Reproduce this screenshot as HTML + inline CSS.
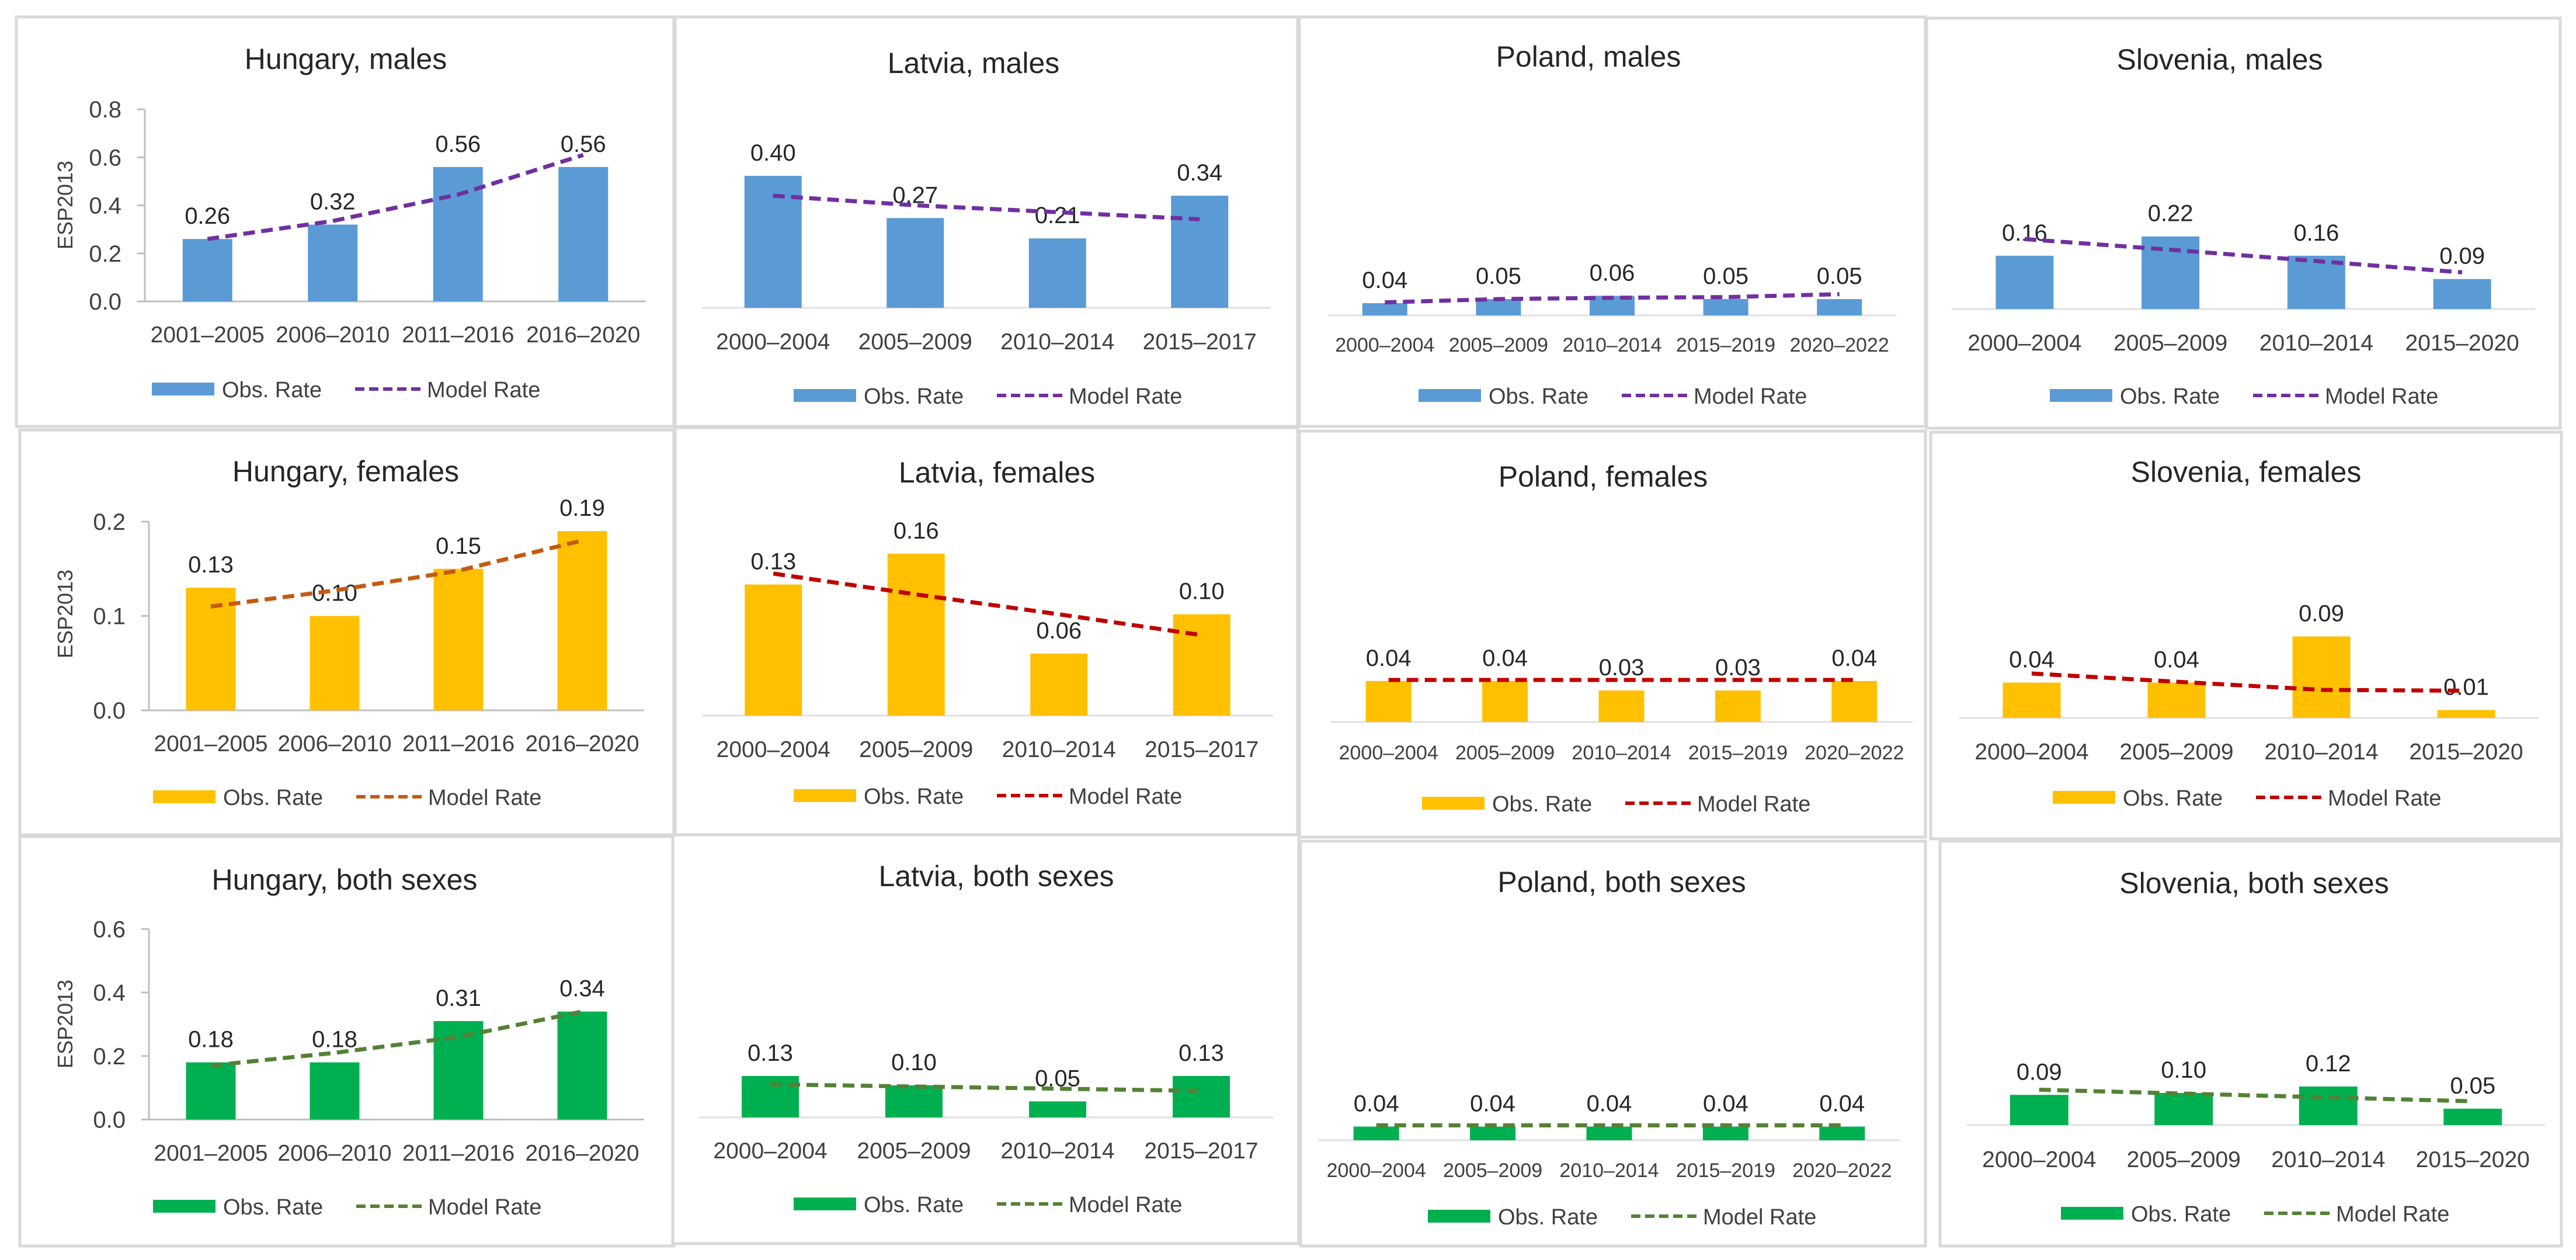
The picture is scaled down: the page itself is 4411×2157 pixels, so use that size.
<!DOCTYPE html>
<html><head><meta charset="utf-8"><style>
html,body{margin:0;padding:0;background:#fff;}
svg{display:block;}
text{font-family:"Liberation Sans",sans-serif;}
</style></head>
<body>
<svg id="chart" width="4411" height="2157" viewBox="0 0 4411 2157" xmlns="http://www.w3.org/2000/svg">
<rect x="0" y="0" width="4411" height="2157" fill="#fff"/>
</svg>
<script>
// ---- data ----
const hungaryCats = ["2001–2005","2006–2010","2011–2016","2016–2020"];
const latviaCats = ["2000–2004","2005–2009","2010–2014","2015–2017"];
const polandCats = ["2000–2004","2005–2009","2010–2014","2015–2019","2020–2022"];
const sloveniaCats = ["2000–2004","2005–2009","2010–2014","2015–2020"];

const hungaryMalesObs = [0.26,0.32,0.56,0.56];
const hungaryMalesModel = [0.26,0.335,0.445,0.61];
const hungaryMalesLabels = ["0.26","0.32","0.56","0.56"];
const hungaryFemalesObs = [0.13,0.10,0.15,0.19];
const hungaryFemalesModel = [0.11,0.127,0.148,0.18];
const hungaryFemalesLabels = ["0.13","0.10","0.15","0.19"];
const hungaryBothObs = [0.18,0.18,0.31,0.34];
const hungaryBothModel = [0.17,0.21,0.26,0.34];
const hungaryBothLabels = ["0.18","0.18","0.31","0.34"];

const latviaMalesObs = [0.538,0.366,0.283,0.457];
const latviaMalesModel = [0.457,0.418,0.39,0.361];
const latviaMalesLabels = ["0.40","0.27","0.21","0.34"];
const latviaFemalesObs = [0.132,0.163,0.0625,0.102];
const latviaFemalesModel = [0.143,0.122,0.102,0.081];
const latviaFemalesLabels = ["0.13","0.16","0.06","0.10"];
const latviaBothObs = [0.134,0.104,0.052,0.134];
const latviaBothModel = [0.107,0.1,0.093,0.086];
const latviaBothLabels = ["0.13","0.10","0.05","0.13"];

const polandMalesObs = [0.0375,0.05,0.06,0.05,0.05];
const polandMalesModel = [0.04,0.05,0.054,0.056,0.065];
const polandMalesLabels = ["0.04","0.05","0.06","0.05","0.05"];
const polandFemalesObs = [0.039,0.039,0.03,0.03,0.039];
const polandFemalesModel = [0.04,0.04,0.04,0.04,0.04];
const polandFemalesLabels = ["0.04","0.04","0.03","0.03","0.04"];
const polandBothObs = [0.039,0.039,0.039,0.039,0.039];
const polandBothModel = [0.0425,0.0425,0.0425,0.0425,0.0425];
const polandBothLabels = ["0.04","0.04","0.04","0.04","0.04"];

const sloveniaMalesObs = [0.16,0.218,0.16,0.09];
const sloveniaMalesModel = [0.21,0.178,0.144,0.11];
const sloveniaMalesLabels = ["0.16","0.22","0.16","0.09"];
const sloveniaFemalesObs = [0.039,0.039,0.09,0.0087];
const sloveniaFemalesModel = [0.049,0.04,0.031,0.03];
const sloveniaFemalesLabels = ["0.04","0.04","0.09","0.01"];
const sloveniaBothObs = [0.094,0.1,0.12,0.051];
const sloveniaBothModel = [0.11,0.098,0.086,0.074];
const sloveniaBothLabels = ["0.09","0.10","0.12","0.05"];

const hungaryMalesTicks = [0,0.2,0.4,0.6,0.8];
const hungaryFemalesTicks = [0,0.1,0.2];
const hungaryBothTicks = [0,0.2,0.4,0.6];

// ---- layout (not data) ----
const BLUE="#5b9bd5", GOLD="#ffc000", GREEN="#00b050";
const panels = [
 {id:"hungary-males",title:"Hungary, males",box:[28,29,1154,730],tx:592,ty:100,ax1:248,ax2:1106,base:516,scale:411,bw:85,cats:hungaryCats,obs:hungaryMalesObs,model:hungaryMalesModel,labels:hungaryMalesLabels,cy:573,cf:39,lx:260,ly:666,bar:BLUE,line:"#7030a0",ticks:hungaryMalesTicks,tickDec:1,esp:351},
 {id:"latvia-males",title:"Latvia, males",box:[1156,29,2222,730],tx:1667,ty:107,ax1:1202,ax2:2176,base:527,scale:420,bw:98,cats:latviaCats,obs:latviaMalesObs,model:latviaMalesModel,labels:latviaMalesLabels,cy:585,cf:39,lx:1359,ly:677,bar:BLUE,line:"#7030a0"},
 {id:"poland-males",title:"Poland, males",box:[2225,29,3297,730],tx:2720,ty:96,ax1:2274,ax2:3247,base:540,scale:560,bw:77,cats:polandCats,obs:polandMalesObs,model:polandMalesModel,labels:polandMalesLabels,cy:589,cf:34,lx:2429,ly:677,bar:BLUE,line:"#7030a0"},
 {id:"slovenia-males",title:"Slovenia, males",box:[3299,31,4384,733],tx:3801,ty:101,ax1:3342,ax2:4341,base:529,scale:570,bw:99,cats:sloveniaCats,obs:sloveniaMalesObs,model:sloveniaMalesModel,labels:sloveniaMalesLabels,cy:587,cf:39,lx:3510,ly:677,bar:BLUE,line:"#7030a0"},

 {id:"hungary-females",title:"Hungary, females",box:[34,736,1154,1429],tx:592,ty:806,ax1:255,ax2:1103,base:1216,scale:1615,bw:85,cats:hungaryCats,obs:hungaryFemalesObs,model:hungaryFemalesModel,labels:hungaryFemalesLabels,cy:1273,cf:39,lx:262,ly:1364,bar:GOLD,line:"#c55a11",ticks:hungaryFemalesTicks,tickDec:1,esp:1051},
 {id:"latvia-females",title:"Latvia, females",box:[1156,732,2222,1429],tx:1707,ty:808,ax1:1202,ax2:2180,base:1225,scale:1700,bw:98,cats:latviaCats,obs:latviaFemalesObs,model:latviaFemalesModel,labels:latviaFemalesLabels,cy:1283,cf:39,lx:1359,ly:1362,bar:GOLD,line:"#c00000"},
 {id:"poland-females",title:"Poland, females",box:[2225,738,3297,1433],tx:2745,ty:815,ax1:2278,ax2:3275,base:1236,scale:1800,bw:78,cats:polandCats,obs:polandFemalesObs,model:polandFemalesModel,labels:polandFemalesLabels,cy:1287,cf:34,lx:2435,ly:1375,bar:GOLD,line:"#c00000"},
 {id:"slovenia-females",title:"Slovenia, females",box:[3306,740,4386,1436],tx:3846,ty:807,ax1:3355,ax2:4347,base:1229,scale:1550,bw:99,cats:sloveniaCats,obs:sloveniaFemalesObs,model:sloveniaFemalesModel,labels:sloveniaFemalesLabels,cy:1287,cf:39,lx:3515,ly:1365,bar:GOLD,line:"#c00000"},

 {id:"hungary-both",title:"Hungary, both sexes",box:[34,1432,1154,2133],tx:590,ty:1505,ax1:255,ax2:1103,base:1916.5,scale:543.5,bw:85,cats:hungaryCats,obs:hungaryBothObs,model:hungaryBothModel,labels:hungaryBothLabels,cy:1974,cf:39,lx:262,ly:2065,bar:GREEN,line:"#548235",ticks:hungaryBothTicks,tickDec:1,esp:1753},
 {id:"latvia-both",title:"Latvia, both sexes",box:[1152,1429,2224,2129],tx:1706,ty:1499,ax1:1196,ax2:2180,base:1913,scale:530,bw:98,cats:latviaCats,obs:latviaBothObs,model:latviaBothModel,labels:latviaBothLabels,cy:1970,cf:39,lx:1359,ly:2061,bar:GREEN,line:"#548235"},
 {id:"poland-both",title:"Poland, both sexes",box:[2227,1440,3297,2133],tx:2777,ty:1509,ax1:2257,ax2:3254,base:1952,scale:600,bw:78,cats:polandCats,obs:polandBothObs,model:polandBothModel,labels:polandBothLabels,cy:2002,cf:34,lx:2445,ly:2082,bar:GREEN,line:"#548235"},
 {id:"slovenia-both",title:"Slovenia, both sexes",box:[3322,1440,4386,2133],tx:3860,ty:1511,ax1:3368,ax2:4358,base:1926,scale:550,bw:100,cats:sloveniaCats,obs:sloveniaBothObs,model:sloveniaBothModel,labels:sloveniaBothLabels,cy:1985,cf:39,lx:3529,ly:2077,bar:GREEN,line:"#548235"}
];

const NS="http://www.w3.org/2000/svg";
const svg=document.getElementById("chart");
function mk(tag,attrs,parent,txt){const e=document.createElementNS(NS,tag);for(const k in attrs)e.setAttribute(k,attrs[k]);if(txt!==undefined)e.textContent=txt;parent.appendChild(e);return e;}

panels.forEach(p=>{
  const g=mk("g",{},svg);
  
  
  const [x1,y1,x2,y2]=p.box;
  const fr=mk("rect",{x:x1,y:y1,width:x2-x1,height:y2-y1,fill:"#fff",stroke:"#d9d9d9","stroke-width":5},g);
  
  
  const t=mk("text",{x:p.tx,y:p.ty+18,"text-anchor":"middle","font-size":50,fill:"#262626"},g,p.title);
  
  
  const n=p.cats.length, step=(p.ax2-p.ax1)/n;
  const xc=i=>p.ax1+(i+0.5)*step;
  const yv=v=>p.base-v*p.scale;
  // y axis
  if(p.ticks){
    const top=yv(p.ticks[p.ticks.length-1]);
    const ya=mk("line",{x1:p.ax1,y1:top,x2:p.ax1,y2:p.base,stroke:"#bfbfbf","stroke-width":3},g);
    
    
    p.ticks.forEach(tv=>{
      const yy=yv(tv);
      const tk=mk("line",{x1:p.ax1-13,y1:yy,x2:p.ax1,y2:yy,stroke:"#bfbfbf","stroke-width":3},g);
      
      
      const tl=mk("text",{x:p.ax1-40,y:yy+14,"text-anchor":"end","font-size":40,fill:"#404040"},g,tv.toFixed(p.tickDec));
      
      
    });
    const et=mk("text",{x:0,y:0,"text-anchor":"middle","font-size":36,fill:"#404040",transform:`translate(124,${p.esp}) rotate(-90)`},g,"ESP2013");
    
    
  }
  // x axis
  const xa=mk("line",{x1:p.ax1,y1:p.base,x2:p.ax2,y2:p.base,stroke:p.ticks?"#bfbfbf":"#e0e0e0","stroke-width":3},g);
  
  
  // bars
  p.obs.forEach((v,i)=>{
    const top=yv(v);
    const b=mk("rect",{x:xc(i)-p.bw/2,y:top,width:p.bw,height:p.base-top,fill:p.bar},g);
    
    
    const l=mk("text",{x:xc(i),y:top-26,"text-anchor":"middle","font-size":40,fill:"#262626"},g,p.labels[i]);
    
    
    const c=mk("text",{x:xc(i),y:p.cy+13,"text-anchor":"middle","font-size":p.cf,fill:"#404040"},g,p.cats[i]);
    
    
  });
  // model line
  const pts=p.model.map((v,i)=>xc(i)+","+yv(v)).join(" ");
  const ml=mk("polyline",{points:pts,fill:"none",stroke:p.line,"stroke-width":7,"stroke-dasharray":"20 11"},g);
  
  
  // legend
  const lg=mk("g",{},g);
  
  
  const sw=mk("rect",{x:p.lx,y:p.ly-11,width:107,height:22,fill:p.bar},lg);
  
  
  const t1=mk("text",{x:p.lx+120,y:p.ly+14,"font-size":38,fill:"#404040"},lg,"Obs. Rate");
  
  
  const dl=mk("line",{x1:p.lx+348,y1:p.ly,x2:p.lx+460,y2:p.ly,stroke:p.line,"stroke-width":6,"stroke-dasharray":"16 8"},lg);
  
  
  const t2=mk("text",{x:p.lx+471,y:p.ly+14,"font-size":38,fill:"#404040"},lg,"Model Rate");
  
  
});
</script>
</body></html>
